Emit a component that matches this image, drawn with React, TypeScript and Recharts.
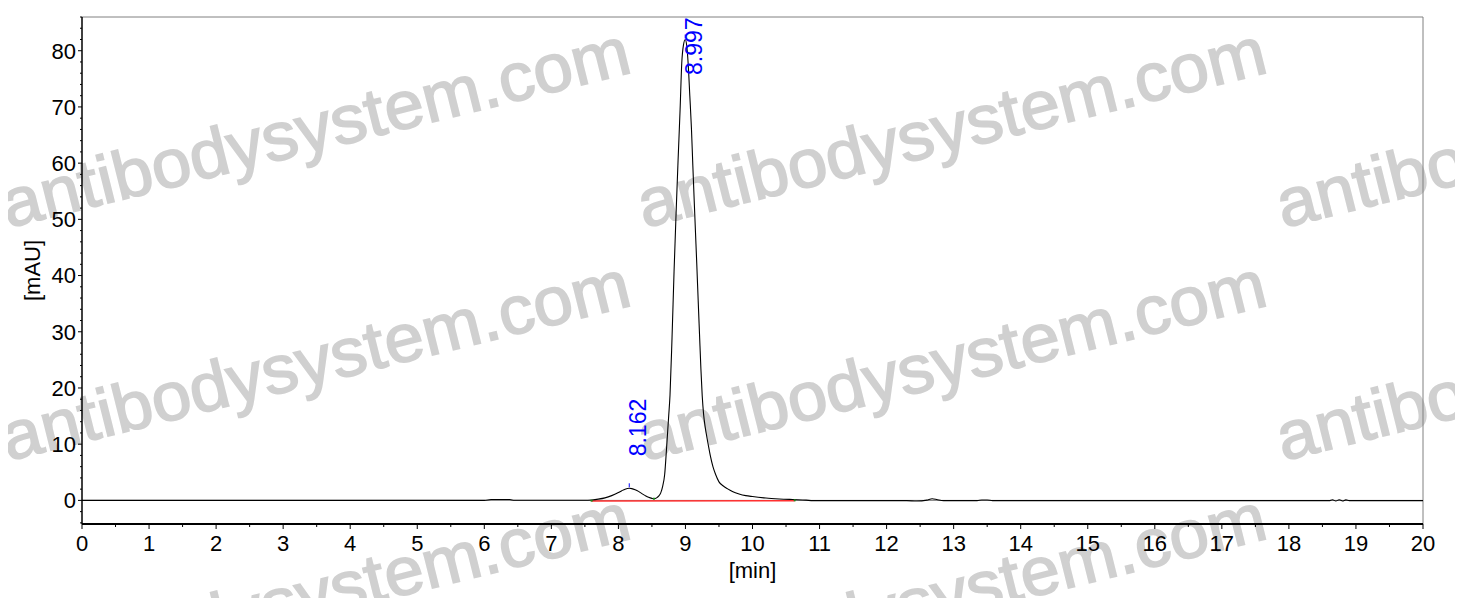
import React from "react";
import { ComposedChart, Line, Scatter, XAxis, YAxis, ReferenceLine } from "recharts";

// chromatogram: retention time [min] and absorbance [mAU]
const times = [
  0, 6.0, 6.1, 6.38, 6.45, 7.5, 7.6, 7.7, 7.8, 7.9, 8.0, 8.05, 8.1, 8.162, 8.2, 8.25, 8.3, 8.35, 8.4, 8.45,
  8.5, 8.53, 8.57, 8.6, 8.63, 8.66, 8.69, 8.72, 8.75, 8.77, 8.8, 8.83, 8.86, 8.89, 8.92, 8.945, 8.97, 8.997,
  9.02, 9.04, 9.065, 9.09, 9.11, 9.13, 9.15, 9.17, 9.19, 9.21, 9.23, 9.25, 9.27, 9.29, 9.31, 9.34, 9.37, 9.41,
  9.45, 9.5, 9.56, 9.63, 9.7, 9.8, 9.9, 10.0, 10.2, 10.4, 10.6, 10.8, 10.9, 12.3, 12.45, 12.6, 12.68, 12.76,
  12.85, 13.35, 13.42, 13.5, 13.58, 18.6, 18.65, 18.7, 18.75, 18.8, 18.85, 18.9, 20,
];
const signal = [
  0, 0, 0.15, 0.15, 0.02, 0.02, 0.08, 0.22, 0.45, 0.85, 1.4, 1.72, 2.0, 2.15, 2.1, 1.9, 1.6, 1.2, 0.85, 0.55,
  0.36, 0.3, 0.45, 0.75, 1.3, 2.5, 4.6, 9.6, 15, 18.8, 29, 40.7, 51, 60.5, 69.5, 77.8, 81, 82,
  80.8, 77.8, 72, 66, 59.6, 53.5, 47.6, 41.7, 35.5, 29.5, 23.5, 18.6, 15.4, 13.4, 11.9, 9.9, 8.0, 6.0,
  4.6, 3.3, 2.6, 2.05, 1.6, 1.15, 0.85, 0.68, 0.42, 0.26, 0.15, 0.05, -0.05, -0.05, -0.12, 0.05, 0.3, 0.1,
  -0.05, -0.05, 0.08, 0.08, -0.05, -0.05, 0.12, -0.12, 0.12, -0.1, 0.1, -0.05, -0.05,
];

// integration baseline and its start / valley / end markers
const baseTimes = [7.6, 10.63];
const baseValues = [-0.1, -0.05];
const markTimes = [7.6, 8.53, 10.63];
const markValues = [-0.05, 0.3, 0.02];

// labelled peaks
const peakTimes = [8.162, 8.997];
const peakHeights = [2.15, 82];
const peakLabels = ["8.162", "8.997"];

const xTicks = [
  0, 0.5, 1, 1.5, 2, 2.5, 3, 3.5, 4, 4.5, 5, 5.5, 6, 6.5, 7, 7.5, 8, 8.5, 9, 9.5, 10,
  10.5, 11, 11.5, 12, 12.5, 13, 13.5, 14, 14.5, 15, 15.5, 16, 16.5, 17, 17.5, 18, 18.5, 19, 19.5, 20,
];
const yTicks = [
  -4, -2, 0, 2, 4, 6, 8, 10, 12, 14, 16, 18, 20, 22, 24, 26, 28, 30, 32, 34, 36, 38, 40, 42, 44,
  46, 48, 50, 52, 54, 56, 58, 60, 62, 64, 66, 68, 70, 72, 74, 76, 78, 80, 82, 84, 86,
];

const watermarkX = [8, 644, 1283];
const watermarkY = [228, 461, 694];

const FONT = "'Liberation Sans', Arial, sans-serif";
const TOP = 9;

const trace = times.map((t, i) => ({ t, v: signal[i] }));
const baseline = baseTimes.map((t, i) => ({ t, v: baseValues[i] }));
const marks = markTimes.map((t, i) => ({ t, v: markValues[i] }));
const peaks = peakTimes.map((t, i) => ({ t, v: peakHeights[i], label: peakLabels[i] }));

function XTick(props: any) {
  const { x, y, payload } = props;
  const major = Number.isInteger(payload.value);
  return (
    <g>
      <line x1={x} y1={y} x2={x} y2={y + (major ? 5 : 3)} stroke="#000" strokeWidth={1} />
      {major && (
        <text x={x} y={y + 27} textAnchor="middle" fontSize={22} fontFamily={FONT} fill="#000">
          {payload.value}
        </text>
      )}
    </g>
  );
}

function YTick(props: any) {
  const { x, y, payload } = props;
  const major = payload.value % 10 === 0;
  return (
    <g>
      <line x1={x} y1={y} x2={x - (major ? 4 : 2)} y2={y} stroke="#000" strokeWidth={1} />
      {major && (
        <text x={x - 6} y={y} dy="0.36em" textAnchor="end" fontSize={22} fontFamily={FONT} fill="#000">
          {payload.value}
        </text>
      )}
    </g>
  );
}

function PeakMark(props: any) {
  const { cx, cy, payload } = props;
  const bx = cx + 17;
  const by = Math.max(cy - 32, TOP + 58);
  return (
    <g>
      <line x1={cx} y1={cy - 5} x2={cx} y2={cy - 1} stroke="#0000ff" strokeWidth={1} />
      <text transform={`translate(${bx},${by}) rotate(-90)`} fontSize={23} fontFamily={FONT} fill="#0000ff">
        {payload.label}
      </text>
    </g>
  );
}

function GreenMark(props: any) {
  const { cx, cy } = props;
  return <rect x={cx - 1} y={cy - 1} width={2} height={2} fill="#1a8a1a" />;
}

function Watermark() {
  return (
    <svg
      width={1463}
      height={606}
      style={{ position: "absolute", left: -8, top: -8, zIndex: 0 }}
    >
      {watermarkY.map((wy) =>
        watermarkX.map((wx) => (
          <text
            key={`${wx}-${wy}`}
            transform={`translate(${wx},${wy}) rotate(-14)`}
            fontSize={68}
            fontFamily={FONT}
            fill="#d0d0d0"
            stroke="#d0d0d0"
            strokeWidth={1.6}
            textLength={645}
            lengthAdjust="spacingAndGlyphs"
          >
            antibodysystem.com
          </text>
        ))
      )}
    </svg>
  );
}

export default function App() {
  return (
    <div style={{ position: "relative", width: 1447, height: 590 }}>
      <Watermark />
      <div style={{ position: "relative", zIndex: 1 }}>
        <ComposedChart width={1447} height={590} margin={{ top: TOP, right: 32, bottom: 14, left: 0 }}>
          <XAxis
            type="number"
            dataKey="t"
            domain={[0, 20]}
            ticks={xTicks}
            interval={0}
            allowDataOverflow
            tickLine={false}
            tickSize={0}
            tickMargin={0}
            tick={<XTick />}
            axisLine={{ stroke: "#000", strokeWidth: 2 }}
            height={60}
            label={(p: any) => {
              const vb = p.viewBox;
              return (
                <text x={vb.x + vb.width / 2} y={570} textAnchor="middle" fontSize={22} fontFamily={FONT} fill="#000">
                  [min]
                </text>
              );
            }}
          />
          <YAxis
            type="number"
            dataKey="v"
            domain={[-4.2, 86]}
            ticks={yTicks}
            interval={0}
            allowDataOverflow
            tickLine={false}
            tickSize={0}
            tickMargin={0}
            tick={<YTick />}
            axisLine={{ stroke: "#000", strokeWidth: 1.5 }}
            width={74}
            label={(p: any) => {
              const vb = p.viewBox;
              const cy = vb.y + vb.height / 2;
              return (
                <text
                  transform={`translate(32,${cy}) rotate(-90)`}
                  textAnchor="middle"
                  fontSize={22}
                  fontFamily={FONT}
                  fill="#000"
                >
                  [mAU]
                </text>
              );
            }}
          />
          <ReferenceLine y={86} stroke="#808080" strokeWidth={1} />
          <ReferenceLine x={20} stroke="#808080" strokeWidth={1} />
          <ReferenceLine y={0} stroke="#808080" strokeWidth={1} />
          <Line
            data={baseline}
            dataKey="v"
            stroke="#ff3030"
            strokeWidth={1.5}
            dot={false}
            isAnimationActive={false}
          />
          <Line
            data={trace}
            dataKey="v"
            type="monotone"
            stroke="#000"
            strokeWidth={1.1}
            dot={false}
            isAnimationActive={false}
          />
          <Scatter data={marks} dataKey="v" shape={<GreenMark />} isAnimationActive={false} />
          <Scatter data={peaks} dataKey="v" shape={<PeakMark />} isAnimationActive={false} />
        </ComposedChart>
      </div>
    </div>
  );
}
